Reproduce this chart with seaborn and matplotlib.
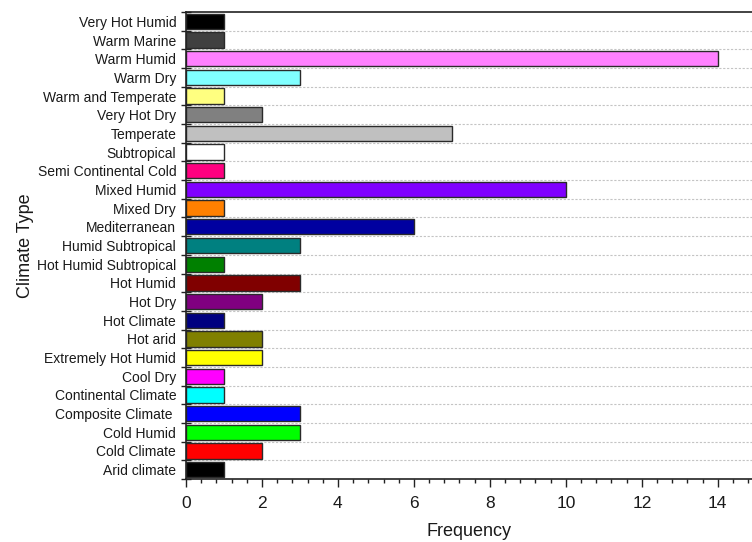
import matplotlib
matplotlib.use("Agg")
import matplotlib.pyplot as plt
from matplotlib.ticker import FixedLocator, MultipleLocator, AutoMinorLocator
import seaborn as sns
import pandas as pd

# Climate categories listed top to bottom
climate_types = [
    "Very Hot Humid", "Warm Marine", "Warm Humid", "Warm Dry", "Warm and Temperate",
    "Very Hot Dry", "Temperate", "Subtropical", "Semi Continental Cold", "Mixed Humid",
    "Mixed Dry", "Mediterranean", "Humid Subtropical", "Hot Humid Subtropical", "Hot Humid",
    "Hot Dry", "Hot Climate", "Hot arid", "Extremely Hot Humid", "Cool Dry",
    "Continental Climate", "Composite Climate ", "Cold Humid", "Cold Climate", "Arid climate",
]
frequencies = [1, 1, 14, 3, 1, 2, 7, 1, 1, 10, 1, 6, 3, 1, 3, 2, 1, 2, 2, 1, 1, 3, 3, 2, 1]
bar_colors = [
    "#000000", "#404040", "#FF80FF", "#80FFFF", "#FFFF80",
    "#808080", "#C0C0C0", "#FFFFFF", "#FF0080", "#8000FF",
    "#FF8000", "#0000A0", "#008080", "#008000", "#800000",
    "#800080", "#000080", "#808000", "#FFFF00", "#FF00FF",
    "#00FFFF", "#0000FF", "#00FF00", "#FF0000", "#000000",
]

df = pd.DataFrame({"Climate Type": climate_types, "Frequency": frequencies})

sns.set_style("white")
plt.rcParams["font.family"] = ["Liberation Sans", "DejaVu Sans"]

fig = plt.figure(figsize=(7.52, 5.42), dpi=100)
ax = fig.add_axes([0.2473, 0.1162, 0.7527, 0.8617])

sns.barplot(data=df, x="Frequency", y="Climate Type", hue="Climate Type",
            palette=bar_colors, order=climate_types, hue_order=climate_types,
            legend=False, width=0.82, edgecolor="#2a2a2a", linewidth=1.0,
            saturation=1, ax=ax)

n = len(climate_types)
ax.set_ylim(n - 0.5, -0.5)
ax.set_xlim(0, 14.9)

# Category boundaries carry ticks and dotted guide lines
boundaries = [i - 0.5 for i in range(n + 1)]
ax.yaxis.set_minor_locator(FixedLocator(boundaries))
ax.grid(False)
for b in boundaries[1:-1]:
    ax.axhline(b, color="#C4C4C4", linestyle=(0, (2, 1.5)), linewidth=0.8, zorder=0)

ax.tick_params(axis="y", which="major", length=0, labelsize=10, pad=7, colors="#1a1a1a")
ax.tick_params(axis="y", which="minor", length=7, width=1.0, direction="inout",
               left=True, color="#222222")
ax.xaxis.set_major_locator(MultipleLocator(2))
ax.xaxis.set_minor_locator(AutoMinorLocator(5))
ax.tick_params(axis="x", which="major", length=6, width=1.0, direction="out",
               bottom=True, labelsize=12.5, pad=6, color="#222222", labelcolor="#1a1a1a")
ax.tick_params(axis="x", which="minor", length=3, width=1.0, direction="out",
               bottom=True, color="#222222")

for side in ["left", "bottom", "top"]:
    ax.spines[side].set_visible(True)
    ax.spines[side].set_color("#222222")
    ax.spines[side].set_linewidth(1.2)
ax.spines["right"].set_visible(False)

ax.set_xlabel("Frequency", fontsize=13, labelpad=9, color="#1a1a1a")
ax.set_ylabel("Climate Type", fontsize=13, labelpad=2.5, color="#1a1a1a")

fig.savefig("out.png", dpi=100)
